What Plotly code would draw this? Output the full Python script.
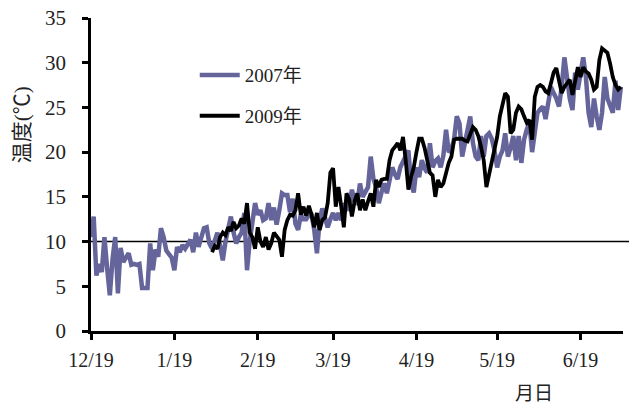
import pandas as pd
import plotly.graph_objects as go

# Daily mean temperature (°C), plotted on a common month/day axis (dummy year 2006/2007)
start_2007 = "2006-12-19"
temp_2007 = [10.5, 12.8, 6.2, 7.5, 6.6, 10.5, 7.0, 4.0, 8.0, 10.5, 4.2, 9.3, 7.7, 8.2, 8.7, 7.4, 7.5, 7.4, 7.5, 4.8,
             4.8, 4.8, 9.8, 6.8, 9.1, 8.3, 11.5, 10.5, 9.0, 8.5, 8.2, 6.8, 9.4, 8.8, 9.6, 9.2, 9.6, 10.2, 8.8, 11.0,
             9.4, 10.5, 11.5, 11.6, 9.8, 9.2, 10.0, 11.0, 9.5, 7.9, 10.0, 11.6, 12.8, 11.0, 9.8, 10.5, 11.0, 13.2, 6.8, 10.0,
             12.0, 14.3, 13.0, 13.5, 12.4, 12.6, 14.3, 12.4, 13.8, 11.9, 13.5, 15.4, 15.2, 15.2, 13.3, 14.8, 12.0, 11.3, 13.0, 12.5,
             12.5, 13.0, 13.0, 11.3, 8.7, 12.4, 13.7, 12.5, 11.6, 12.5, 13.2, 12.4, 13.2, 12.4, 14.3, 13.5, 14.0, 15.8, 14.5, 14.3,
             16.5, 15.0, 15.6, 16.1, 19.5, 17.0, 16.1, 14.3, 15.5, 16.5, 15.4, 17.0, 18.3, 17.5, 17.0, 18.3, 19.0, 19.6, 20.2, 16.5,
             15.5, 18.3, 17.2, 19.1, 18.2, 17.7, 21.0, 18.3, 19.0, 19.3, 18.3, 19.6, 22.5, 20.0, 20.3, 21.5, 24.0, 23.2, 19.5, 21.0,
             22.8, 24.0, 21.0, 19.5, 19.1, 21.8, 19.5, 21.8, 22.1, 21.5, 20.2, 18.3, 19.5, 20.2, 22.1, 19.5, 20.5, 21.8, 19.1, 21.8,
             18.8, 21.4, 22.5, 23.3, 20.0, 22.1, 24.4, 24.8, 25.1, 23.7, 25.5, 27.3, 26.6, 26.0, 25.1, 27.3, 30.6, 27.7, 26.0, 24.7,
             28.9, 27.0, 29.0, 30.6, 28.4, 24.4, 22.8, 26.0, 24.0, 22.5, 24.4, 28.4, 26.0, 25.0, 24.4, 28.0, 24.7, 27.3]

start_2009 = "2007-02-02"
temp_2009 = [8.8, 9.5, 9.2, 10.5, 11.0, 10.7, 11.6, 11.2, 12.2, 11.5, 11.8, 12.6, 12.0, 14.3, 11.0, 10.5, 9.2, 11.6, 10.0, 9.4,
             10.5, 9.1, 9.8, 11.0, 10.6, 10.2, 8.3, 11.3, 12.4, 13.0, 12.9, 13.5, 15.4, 13.0, 13.9, 12.9, 14.0, 13.0, 11.6, 13.2,
             11.3, 12.4, 12.7, 14.3, 17.7, 18.2, 13.9, 16.1, 14.0, 11.6, 15.4, 14.7, 12.8, 14.5, 15.4, 13.5, 14.7, 13.5, 14.5, 15.4,
             13.9, 16.9, 16.1, 16.9, 17.0, 17.0, 19.1, 20.2, 20.6, 21.0, 20.2, 21.7, 19.1, 15.8, 17.2, 18.3, 20.0, 21.5, 21.5, 20.5,
             19.1, 17.7, 17.4, 15.0, 16.9, 16.1, 16.5, 17.7, 18.8, 19.5, 21.4, 21.5, 21.5, 21.5, 21.3, 21.2, 22.0, 22.8, 22.5, 21.8,
             20.6, 19.1, 16.1, 17.5, 19.0, 20.6, 21.7, 24.0, 25.5, 26.6, 26.2, 22.1, 22.5, 24.4, 25.1, 24.8, 24.0, 23.3, 23.6, 21.4,
             26.2, 27.3, 27.5, 27.3, 26.8, 26.6, 27.7, 28.9, 29.4, 27.7, 26.6, 27.3, 27.7, 28.1, 26.4, 28.1, 29.5, 28.4, 29.5, 29.0,
             28.8, 28.1, 27.0, 27.3, 30.3, 31.6, 31.4, 31.1, 29.9, 28.4, 27.5, 27.0, 27.3]

tick_dates = ["2006-12-19", "2007-01-19", "2007-02-19", "2007-03-19", "2007-04-19", "2007-05-19", "2007-06-19"]
tick_labels = ["12/19", "1/19", "2/19", "3/19", "4/19", "5/19", "6/19"]
x_range = ["2006-12-19", "2007-07-04 19:00"]
y_ticks = [0, 5, 10, 15, 20, 25, 30, 35]
threshold = 10

x2007 = pd.date_range(start_2007, periods=len(temp_2007), freq="D")
x2009 = pd.date_range(start_2009, periods=len(temp_2009), freq="D")

SERIF = "Liberation Serif, Noto Sans CJK JP, serif"

fig = go.Figure()
fig.add_trace(go.Scatter(x=x2007, y=temp_2007, mode="lines", name="2007年",
                         line=dict(color="#65659C", width=4.5), legendgroup="a"))
fig.add_trace(go.Scatter(x=x2009, y=temp_2009, mode="lines", name="2009年",
                         line=dict(color="#000000", width=3.8), legendgroup="b"))

fig.add_shape(type="line", xref="paper", yref="y", x0=0, x1=1.02, y0=threshold, y1=threshold,
              line=dict(color="black", width=1.5), layer="below")

fig.update_layout(
    width=629, height=403,
    margin=dict(l=91, r=6, t=18, b=72, autoexpand=False),
    paper_bgcolor="white", plot_bgcolor="white",
    font=dict(family=SERIF, size=20, color="#222"),
    showlegend=True,
    legend=dict(x=0.195, y=0.878, xanchor="left", yanchor="top", bgcolor="rgba(0,0,0,0)",
                font=dict(size=19, family=SERIF), tracegroupgap=13, itemwidth=40),
    xaxis=dict(type="date", range=x_range, tickvals=tick_dates, ticktext=tick_labels, automargin=False,
               showgrid=False, zeroline=False, showline=True, linecolor="black", linewidth=2.5,
               ticks="outside", ticklen=6, tickwidth=2.5, tickcolor="black",
               ticklabelstandoff=3,
               tickfont=dict(size=20, family=SERIF, color="#222")),
    yaxis=dict(range=[0, 35], tickvals=y_ticks, showgrid=False, zeroline=False, automargin=False,
               showline=True, linecolor="black", linewidth=2.5,
               ticks="outside", ticklen=6, tickwidth=2.5, tickcolor="black", ticklabelstandoff=12,
               tickfont=dict(size=21, family=SERIF, color="#222")),
    annotations=[
        dict(text="温度(℃)", xref="paper", yref="paper", x=-0.128, y=0.66, textangle=-90,
             showarrow=False, font=dict(size=21, family=SERIF, color="#222"), xanchor="center", yanchor="middle"),
        dict(text="月日", xref="paper", yref="paper", x=0.833, y=-0.2, showarrow=False,
             font=dict(size=19, family=SERIF, color="#222"), xanchor="center", yanchor="middle"),
    ],
)

fig.write_html("out.html", config={"displayModeBar": False},
               post_script="document.body.style.margin='0';")
